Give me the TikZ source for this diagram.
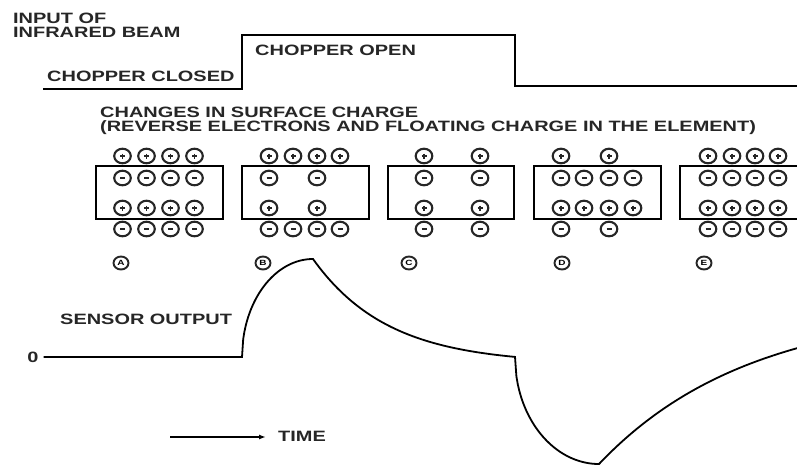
\documentclass[tikz,border=0pt]{standalone}
\usepackage{fontspec}
\setmainfont{Liberation Sans}[FakeStretch=1.33]
\usetikzlibrary{arrows.meta}
\tikzset{
  wave/.style={line width=1.8pt, line join=miter},
  lab/.style={inner sep=0pt, font=\fontsize{15}{15}\selectfont\bfseries, text=black!85},
  elem/.style={draw, line width=1.9pt},
  chg/.style={draw, line width=2.1pt, black!85},
  sym/.style={line width=1.2pt, black!85}
}
\newcommand\chgp[2]{\draw[chg] (#1,#2) ellipse[x radius=8.3, y radius=7.3];\draw[sym] (#1-2.5,#2) -- (#1+2.5,#2) (#1,#2-2.5) -- (#1,#2+2.5);}
\newcommand\chgm[2]{\draw[chg] (#1,#2) ellipse[x radius=8.3, y radius=7.3];\draw[sym] (#1-2.5,#2) -- (#1+2.5,#2);}
\newcommand\circlab[3]{\draw[line width=1.9pt, black!85] (#1,#2) ellipse[x radius=7.5, y radius=6.5]; \node[inner sep=0pt, font=\fontsize{7.5}{7.5}\selectfont\bfseries] at (#1,#2) {#3};}
\begin{document}
\begin{tikzpicture}[x=1pt,y=-1pt]
\useasboundingbox (0,0) rectangle (797,466);
% input waveform
\node[lab, anchor=base west] (input) at (13,23) {INPUT OF};
\node[lab, anchor=base west] (infra) at (13,37) {INFRARED BEAM};
\node[lab, anchor=base west] (open) at (255,55) {CHOPPER OPEN};
\node[lab, anchor=base west] (closed) at (47,81) {CHOPPER CLOSED};
\draw[wave] (43,89) -- (242,89) -- (242,35) -- (515,35) -- (515,86) -- (797,86);
% heading
\node[lab, anchor=base west] (ch1) at (100,117) {CHANGES IN SURFACE CHARGE};
\node[lab, anchor=base west] (ch2) at (100,131) {(REVERSE ELECTRONS AND FLOATING CHARGE IN THE ELEMENT)};
% elements
\draw[elem] (96,166) rectangle (223,219);
\draw[elem] (242,166) rectangle (369,219);
\draw[elem] (388,166) rectangle (514,219);
\draw[elem] (534,166) rectangle (661,219);
\draw[elem] (800,166) -- (680,166) -- (680,219) -- (800,219);
% A
\foreach \x in {122.5,146.5,170.5,194.5}{\chgp{\x}{156}\chgm{\x}{178}\chgp{\x}{208}\chgm{\x}{229}}
% B
\foreach \x in {269,293,317,340}{\chgp{\x}{156}\chgm{\x}{229}}
\foreach \x in {269,317}{\chgm{\x}{178}\chgp{\x}{208}}
% C
\foreach \x in {424,480}{\chgp{\x}{156}\chgm{\x}{178}\chgp{\x}{208}\chgm{\x}{229}}
% D
\foreach \x in {561,609}{\chgp{\x}{156}\chgm{\x}{229}}
\foreach \x in {561,584,609,633}{\chgm{\x}{178}\chgp{\x}{208}}
% E
\foreach \x in {708,732,755,778}{\chgp{\x}{156}\chgm{\x}{178}\chgp{\x}{208}\chgm{\x}{229}}
% labels
\circlab{121}{263}{A}
\circlab{263}{263}{B}
\circlab{409}{263}{C}
\circlab{562}{263}{D}
\circlab{704}{263}{E}
% sensor output
\node[lab, anchor=base west] (sensor) at (60,324) {SENSOR OUTPUT};
\node[lab, anchor=center] (zero) at (33,357) {0};
\draw[wave] (zero.east) ++(5,0) -- (242,357)
  -- plot[domain=242:313, samples=60] (\x, {357-98*sqrt(max(0,1-((\x-313)/71)^2))})
  -- plot[domain=313:515, samples=60] (\x, {259+105*(1-exp(-(\x-313)/75))})
  -- plot[domain=515:599, samples=60] (\x, {357+107*sqrt(max(0,1-((\x-599)/84)^2))})
  -- plot[domain=599:797, samples=60] (\x, {464-158*(1-exp(-(\x-599)/150))});
% time arrow
\node[lab, anchor=base west] (time) at (278,441) {TIME};
\coordinate (tstart) at (170,437);
\coordinate (tend) at (266,437);
\draw[line width=1.5pt, -{Latex[length=7pt,width=5pt]}] (tstart) -- (tend);
\end{tikzpicture}
\end{document}
